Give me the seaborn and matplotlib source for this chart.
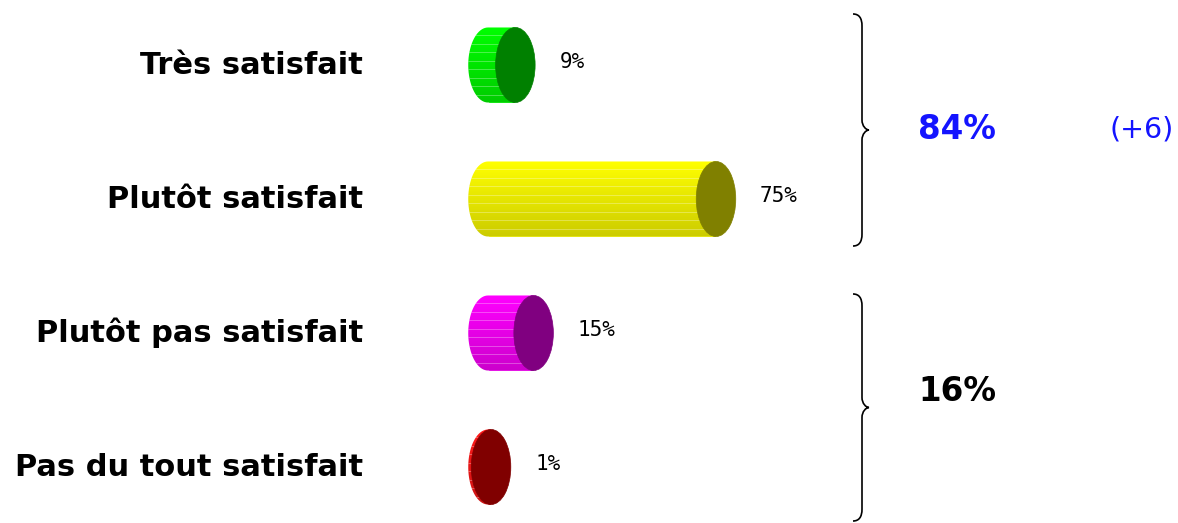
import numpy as np
import matplotlib
matplotlib.use("Agg")
import matplotlib.pyplot as plt
import matplotlib.colors as mcolors
from matplotlib.patches import Ellipse, PathPatch
from matplotlib.path import Path
import seaborn as sns

sns.set_style("white")
plt.rcParams['font.family'] = ['DejaVu Sans']

# data
categories = ['Très satisfait', 'Plutôt satisfait', 'Plutôt pas satisfait', 'Pas du tout satisfait']
values = [9, 75, 15, 1]
body_colors = ['#00ff00', '#ffff00', '#ff00ff', '#ff1a1a']
cap_colors = ['#008000', '#808000', '#800080', '#800000']
satisfied_change = '(+6)'

satisfied = values[0] + values[1]
unsatisfied = values[2] + values[3]

fig = plt.figure(figsize=(11.78, 5.23), dpi=100)
ax = fig.add_axes([0, 0, 1, 1])

sns.barplot(x=values, y=categories, hue=categories, palette=body_colors,
            orient='h', width=0.56, saturation=1, legend=False, ax=ax, zorder=1)

cap_w = 13.0  # horizontal width of the cylinder ends (data units)
bars = [c.patches[0] for c in ax.containers]
for bar, v, body, cap in zip(bars, values, body_colors, cap_colors):
    y0 = bar.get_y()
    h = bar.get_height()
    yc = y0 + h / 2
    # outline of the body: rectangle + rounded left end
    verts = [(0, y0), (v, y0), (v, y0 + h), (0, y0 + h)]
    for a in np.linspace(np.pi / 2, 3 * np.pi / 2, 40):
        verts.append((cap_w / 2 * np.cos(a), yc + h / 2 * np.sin(a)))
    verts.append((0, y0))
    body_patch = PathPatch(Path(verts), facecolor='none', edgecolor='none',
                           transform=ax.transData)
    ax.add_patch(body_patch)
    # vertical shading (bright top, darker bottom)
    rgb = np.array(mcolors.to_rgb(body))
    shade = np.linspace(1.0, 0.8, 60)[:, None]
    grad = (rgb[None, :] * shade)[:, None, :]
    im = ax.imshow(grad, extent=(-cap_w / 2, v, y0 + h, y0), aspect='auto',
                   origin='upper', zorder=2, interpolation='bilinear')
    im.set_clip_path(body_patch)
    # faint horizontal stripes
    for ys in np.linspace(y0 + h * 0.1, y0 + h * 0.9, 8):
        ln, = ax.plot([-cap_w / 2, v], [ys, ys], color='white', lw=0.7,
                      alpha=0.3, zorder=3)
        ln.set_clip_path(body_patch)
    # right end of the cylinder
    ax.add_patch(Ellipse((v, yc), cap_w, h, facecolor=cap, edgecolor=cap,
                         lw=0.5, zorder=4))
    # value label
    ax.text(v + 14.5, yc - 0.02, f'{v}%', family='DejaVu Sans Mono', fontsize=15,
            ha='left', va='center', color='black')

# category labels
for i, cat in enumerate(categories):
    ax.text(-41, i, cat, fontsize=22, fontweight='bold', ha='right',
            va='center', color='black')


def brace(x, top, bot, tip=7, hook=9):
    mid = (top + bot) / 2
    pts = [(x - hook, top), (x - 3, top), (x, top + 4), (x, top + 12),
           (x, mid - 10),
           (x, mid - 4), (x + tip - 3, mid), (x + tip, mid),
           (x + tip - 3, mid), (x, mid + 4), (x, mid + 10),
           (x, bot - 12),
           (x, bot - 4), (x - 3, bot), (x - hook, bot)]
    codes = [Path.MOVETO, Path.CURVE4, Path.CURVE4, Path.CURVE4,
             Path.LINETO,
             Path.CURVE4, Path.CURVE4, Path.CURVE4,
             Path.CURVE4, Path.CURVE4, Path.CURVE4,
             Path.LINETO,
             Path.CURVE4, Path.CURVE4, Path.CURVE4]
    pts = [(px / 100, (523 - py) / 100) for px, py in pts]
    fig.patches.append(PathPatch(Path(pts, codes), facecolor='none',
                                 edgecolor='black', lw=1.2,
                                 transform=fig.dpi_scale_trans))


brace(862, 14, 246)
brace(862, 294, 521)

ax.text(141.5, 0.48, f'{satisfied}%', fontsize=23.5, fontweight='bold',
        color='#1414ff', ha='left', va='center')
ax.text(204.5, 0.48, satisfied_change, fontsize=20.5, color='#1414ff',
        ha='left', va='center')
ax.text(141.5, 2.44, f'{unsatisfied}%', fontsize=23.5, fontweight='bold',
        color='black', ha='left', va='center')

ax.set_xlim(-488 / 3.04, (1178 - 488) / 3.04)
ax.set_ylim(3 + (523 - 467) / 134, -65 / 134)
ax.axis('off')

fig.savefig('out.png', dpi=100, facecolor='white')
